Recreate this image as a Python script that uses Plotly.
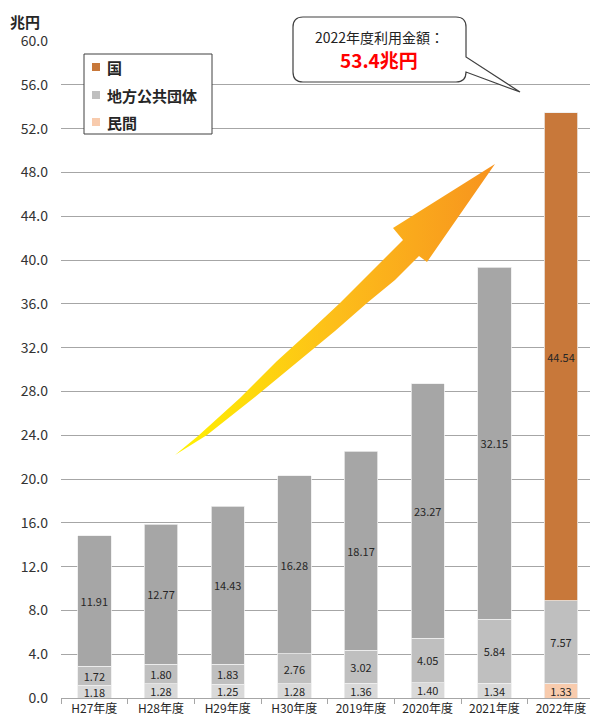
import plotly.graph_objects as go

# ---------------- data ----------------
categories = ["H27年度", "H28年度", "H29年度", "H30年度", "2019年度", "2020年度", "2021年度", "2022年度"]
minkan = [1.18, 1.28, 1.25, 1.28, 1.36, 1.40, 1.34, 1.33]          # 民間
chiho = [1.72, 1.80, 1.83, 2.76, 3.02, 4.05, 5.84, 7.57]           # 地方公共団体
kuni = [11.91, 12.77, 14.43, 16.28, 18.17, 23.27, 32.15, 44.54]    # 国
series_names = ["国", "地方公共団体", "民間"]
y_tick_values = [0, 4, 8, 12, 16, 20, 24, 28, 32, 36, 40, 44, 48, 52, 56, 60]
callout_title = "2022年度利用金額："
callout_value = "53.4兆円"
unit_label = "兆円"

# ---------------- styles ----------------
FONT = "Noto Sans CJK JP"
HI = len(categories) - 1  # highlighted (latest) year
c_kuni, c_chiho, c_minkan = "#c8783a", "#bfbfbf", "#f8cbad"
g_kuni, g_chiho, g_minkan = "#a6a6a6", "#bfbfbf", "#d9d9d9"

def colors(gray, hi):
    return [hi if i == HI else gray for i in range(len(categories))]

# plot area in pixels
L, R, T, B = 61, 590, 41, 698
W, H = R - L, B - T
def px(x):
    return (x - L) / W
def py(y):
    return (B - y) / H

fig = go.Figure()

for vals, name, gray, hi in [(minkan, "民間", g_minkan, c_minkan),
                             (chiho, "地方公共団体", g_chiho, c_chiho),
                             (kuni, "国", g_kuni, c_kuni)]:
    fig.add_trace(go.Bar(
        x=categories, y=vals, name=name, showlegend=False,
        width=0.5,
        marker=dict(color=colors(gray, hi), line=dict(color="#ededed", width=0.8)),
        texttemplate="%{y:.2f}", textposition="inside", insidetextanchor="middle",
        textangle=0,
        textfont=dict(family=FONT, size=11, color="#262626"),
        hoverinfo="skip",
    ))

# decorative rising arrow (pixel-space overlay axes)
arrow_x = [175, 198, 240, 277, 310, 340, 370, 403, 393, 495, 427, 419, 395, 367, 335, 300, 255, 207, 175]
arrow_y = [455, 436, 398, 361, 331, 303, 273, 240, 228, 164, 262, 256, 280, 303, 331, 360, 397, 435, 455]
fig.add_trace(go.Scatter(
    x=arrow_x, y=arrow_y, xaxis="x2", yaxis="y2", mode="lines",
    fill="toself", line=dict(width=0, color="rgba(0,0,0,0)"),
    fillgradient=dict(type="horizontal",
                      colorscale=[[0, "#fff200"], [0.5, "#fdbe1a"], [1, "#f7931e"]]),
    showlegend=False, hoverinfo="skip",
))

shapes = []
annotations = []

# callout bubble
def P(x, y):
    return f"{px(x):.5f},{py(y):.5f}"
bx0, bx1, by0, by1, r = 293, 466, 17, 82, 10
path = (f"M{P(bx0 + r, by0)} L{P(bx1 - r, by0)} Q{P(bx1, by0)} {P(bx1, by0 + r)} "
        f"L{P(bx1, 57)} L{P(520, 92)} L{P(bx1, 72)} "
        f"L{P(bx1, by1 - r)} Q{P(bx1, by1)} {P(bx1 - r, by1)} "
        f"L{P(bx0 + r, by1)} Q{P(bx0, by1)} {P(bx0, by1 - r)} "
        f"L{P(bx0, by0 + r)} Q{P(bx0, by0)} {P(bx0 + r, by0)} Z")
shapes.append(dict(type="path", xref="paper", yref="paper", path=path,
                   fillcolor="white", line=dict(color="#404040", width=1.2), layer="above"))
annotations.append(dict(xref="paper", yref="paper", x=px(379), y=py(37), text=callout_title,
                        showarrow=False, xanchor="center", yanchor="middle",
                        font=dict(family=FONT, size=14, color="#222222")))
annotations.append(dict(xref="paper", yref="paper", x=px(379), y=py(59), text=f"<b>{callout_value}</b>",
                        showarrow=False, xanchor="center", yanchor="middle",
                        font=dict(family=FONT, size=19, color="#ff0000")))

# legend (manual)
shapes.append(dict(type="rect", xref="paper", yref="paper",
                   x0=px(84), x1=px(212), y0=py(54), y1=py(134),
                   fillcolor="white", line=dict(color="#404040", width=1), layer="above"))
for name, col, yc in [(series_names[0], c_kuni, 67), (series_names[1], c_chiho, 95), (series_names[2], c_minkan, 122)]:
    shapes.append(dict(type="rect", xref="paper", yref="paper",
                       x0=px(92), x1=px(100), y0=py(yc - 4), y1=py(yc + 4),
                       fillcolor=col, line=dict(width=0), layer="above"))
    annotations.append(dict(xref="paper", yref="paper", x=px(105), y=py(yc), text=f"<b>{name}</b>",
                            showarrow=False, xanchor="left", yanchor="middle",
                            font=dict(family=FONT, size=15, color="#262626")))

# unit label
annotations.append(dict(xref="paper", yref="paper", x=px(8), y=py(21), text=f"<b>{unit_label}</b>",
                        showarrow=False, xanchor="left", yanchor="middle",
                        font=dict(family=FONT, size=15, color="#262626")))

fig.update_layout(
    template="none",
    width=590, height=722,
    margin=dict(l=L, r=590 - R, t=T, b=722 - B, pad=0),
    paper_bgcolor="white", plot_bgcolor="white",
    barmode="stack",
    showlegend=False,
    uniformtext=dict(minsize=11, mode="show"),
    font=dict(family=FONT),
    xaxis=dict(
        range=[-0.5, 7.435],
        showline=True, linecolor="#a6a6a6", linewidth=1,
        ticks="outside", tickson="boundaries", ticklen=5, tickcolor="#a6a6a6",
        showgrid=False, zeroline=False, automargin=False,
        tickfont=dict(family=FONT, size=12, color="#262626"),
    ),
    yaxis=dict(
        range=[0, 60], tickvals=y_tick_values, tickformat=".1f",
        showgrid=True, gridcolor="#a6a6a6", gridwidth=1,
        zeroline=False, showline=False, ticks="", automargin=False,
        ticklabelstandoff=12,
        tickfont=dict(family=FONT, size=14, color="#333333"),
    ),
    xaxis2=dict(overlaying="x", range=[L, R], visible=False, fixedrange=True),
    yaxis2=dict(overlaying="y", range=[B, T], visible=False, fixedrange=True),
    shapes=shapes,
    annotations=annotations,
)

fig.write_html("out.html")
